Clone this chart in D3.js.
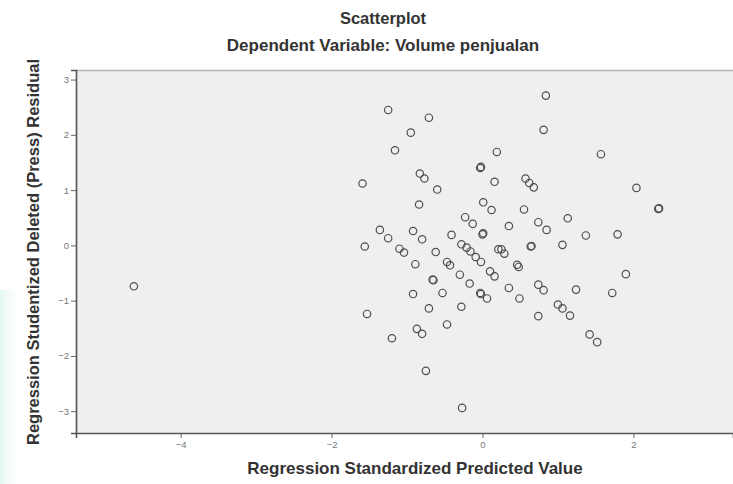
<!DOCTYPE html>
<html>
<head>
<meta charset="utf-8">
<script src="https://cdn.jsdelivr.net/npm/d3@7"></script>
<style>
  html, body { margin: 0; padding: 0; background: #ffffff; }
  svg { display: block; font-family: "Liberation Sans", Arial, sans-serif; }
</style>
</head>
<body>
<svg id="chart" width="733" height="484"></svg>
<script>
// Standardized predicted values (x) and studentized deleted residuals (y)
const predicted = [
  -4.62, -1.25, -0.71, -0.95, -1.16, 0.19, -0.03, -0.02, 0.16, -1.59,
  -0.83, -0.77, -0.60, -0.84, 0.01, 0.12, -0.23, -0.13, 0.00, 0.01,
  -1.36, -1.25, -0.92, -0.80, -0.41, -0.28, -0.21, -1.56, -1.10, 0.84,
  0.81, 1.57, 0.57, 0.62, 0.68, 2.04, 2.33, 2.34, 0.55, 1.13,
  0.35, 0.74, 0.85, 1.37, 1.79, 0.64, 0.65, 1.06, 0.25, -1.04,
  -0.62, -0.16, -0.09, -0.02, 0.21, -0.89, -0.47, -0.43, -0.30, 0.10,
  0.16, -0.66, -0.65, -0.17, -0.92, -0.53, -0.03, -0.02, 0.06, -0.71,
  -0.28, -1.53, -0.87, -0.80, -0.47, -1.20, -0.75, -0.27, 0.29, 0.46,
  0.48, 1.90, 0.35, 0.74, 0.81, 1.24, 1.72, 0.49, 1.00, 1.06,
  1.16, 0.74, 1.42, 1.52
];
const residual = [
  -0.74, 2.45, 2.31, 2.04, 1.72, 1.69, 1.40, 1.42, 1.15, 1.12,
  1.30, 1.21, 1.01, 0.74, 0.78, 0.64, 0.51, 0.39, 0.20, 0.22,
  0.28, 0.13, 0.26, 0.11, 0.19, 0.02, -0.04, -0.02, -0.06, 2.71,
  2.09, 1.65, 1.21, 1.13, 1.05, 1.04, 0.66, 0.67, 0.65, 0.49,
  0.35, 0.42, 0.28, 0.18, 0.20, -0.02, -0.01, 0.01, -0.07, -0.13,
  -0.12, -0.11, -0.21, -0.30, -0.07, -0.34, -0.30, -0.36, -0.53, -0.47,
  -0.56, -0.62, -0.63, -0.69, -0.88, -0.86, -0.86, -0.88, -0.96, -1.14,
  -1.11, -1.24, -1.51, -1.60, -1.43, -1.68, -2.27, -2.94, -0.15, -0.35,
  -0.39, -0.52, -0.77, -0.71, -0.81, -0.80, -0.86, -0.96, -1.07, -1.14,
  -1.27, -1.28, -1.61, -1.75
];
const xTicks = [-4, -2, 0, 2];
const yTicks = [-3, -2, -1, 0, 1, 2, 3];

const titleText = "Scatterplot";
const subtitleText = "Dependent Variable: Volume penjualan";
const xLabel = "Regression Standardized Predicted Value";
const yLabel = "Regression Studentized Deleted (Press) Residual";

const svg = d3.select("#chart");
const plotLeft = 76, plotRight = 733, plotTop = 70, plotBottom = 433;

const x = d3.scaleLinear().domain([-5.387, 3.32]).range([plotLeft, plotRight]);
const y = d3.scaleLinear().domain([-3.394, 3.173]).range([plotBottom, plotTop]);

// soft tint along the lower-left margin
const defs = svg.append("defs");
const tint = defs.append("linearGradient").attr("id", "tint")
  .attr("x1", 0).attr("x2", 1).attr("y1", 0).attr("y2", 0);
tint.append("stop").attr("offset", "0%").attr("stop-color", "#dff7ee").attr("stop-opacity", 0.9);
tint.append("stop").attr("offset", "100%").attr("stop-color", "#ffffff").attr("stop-opacity", 0);
svg.append("rect").attr("x", 0).attr("y", 290).attr("width", 24).attr("height", 194)
  .attr("fill", "url(#tint)");

// plot panel
svg.append("rect")
  .attr("x", plotLeft).attr("y", plotTop)
  .attr("width", plotRight - plotLeft).attr("height", plotBottom - plotTop)
  .attr("fill", "#efefef");
svg.append("line")
  .attr("x1", plotLeft).attr("x2", plotRight).attr("y1", plotTop + 0.5).attr("y2", plotTop + 0.5)
  .attr("stroke", "#b4b4b4").attr("stroke-width", 1.5);

// axes
const xAxis = svg.append("g")
  .attr("transform", `translate(0,${plotBottom})`)
  .call(d3.axisBottom(x).tickValues(xTicks).tickSize(5).tickPadding(3).tickFormat(d3.format("d")));
const yAxis = svg.append("g")
  .attr("transform", `translate(${plotLeft},0)`)
  .call(d3.axisLeft(y).tickValues(yTicks).tickSize(5).tickPadding(2).tickFormat(d3.format("d")));

[xAxis, yAxis].forEach(g => {
  g.select(".domain").attr("stroke", "#555").attr("stroke-width", 1.6);
  g.selectAll(".tick line").attr("stroke", "#666").attr("stroke-width", 1);
  g.selectAll(".tick text").attr("fill", "#777").attr("font-size", 9.5)
    .attr("font-family", "Liberation Sans, Arial, sans-serif");
});

// points
const points = predicted.map((v, i) => ({ px: v, py: residual[i] }));
svg.append("g").selectAll("circle")
  .data(points)
  .join("circle")
  .attr("cx", d => x(d.px))
  .attr("cy", d => y(d.py))
  .attr("r", 3.7)
  .attr("fill", "none")
  .attr("stroke", "#4e4e4e")
  .attr("stroke-width", 1.2);

// titles and axis labels
svg.append("text").attr("x", 383).attr("y", 24).attr("text-anchor", "middle")
  .attr("font-size", 16.5).attr("font-weight", "bold").attr("fill", "#333").text(titleText);
svg.append("text").attr("x", 383).attr("y", 51).attr("text-anchor", "middle")
  .attr("font-size", 17).attr("font-weight", "bold").attr("fill", "#333").text(subtitleText);
svg.append("text").attr("x", 415).attr("y", 474).attr("text-anchor", "middle")
  .attr("font-size", 17).attr("font-weight", "bold").attr("fill", "#333").text(xLabel);
svg.append("text")
  .attr("transform", "translate(39,252) rotate(-90)")
  .attr("text-anchor", "middle")
  .attr("font-size", 16.5).attr("font-weight", "bold").attr("fill", "#333").text(yLabel);
</script>
</body>
</html>
